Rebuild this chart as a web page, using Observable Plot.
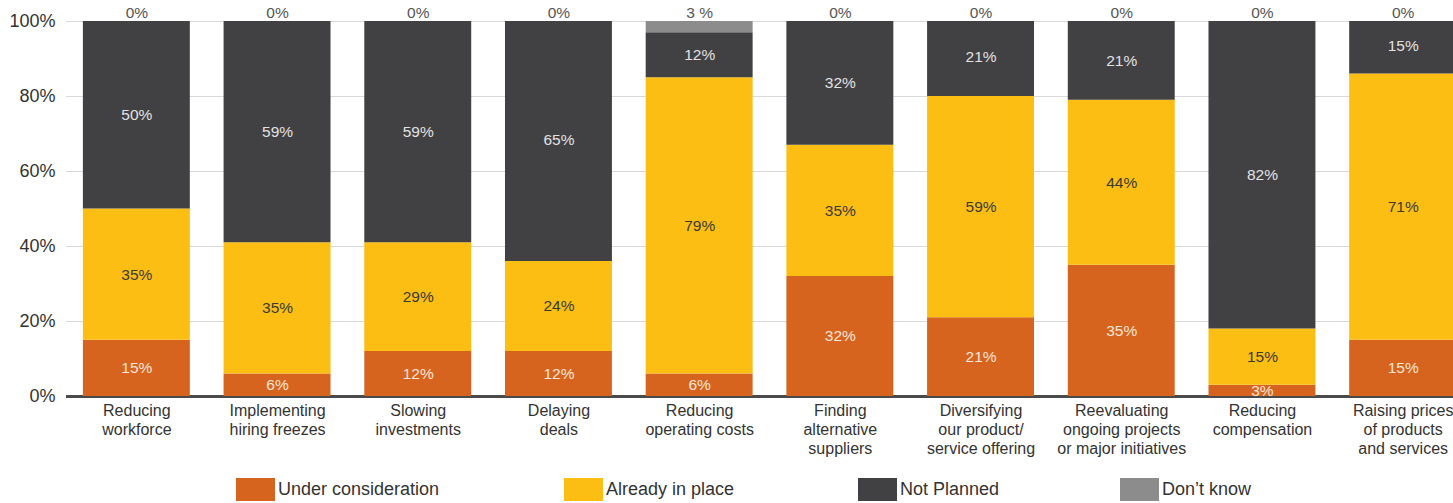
<!DOCTYPE html>
<html>
<head>
<meta charset="utf-8">
<script src="https://cdn.jsdelivr.net/npm/d3@7"></script>
<script src="https://cdn.jsdelivr.net/npm/@observablehq/plot@0.6"></script>
<style>
  html, body { margin: 0; padding: 0; background: #fff; overflow: hidden; }
  #wrap { position: relative; width: 1453px; height: 503px; overflow: hidden; font-family: "Liberation Sans", Arial, sans-serif; }
  #chart svg { max-width: none !important; }
  #legend { position: absolute; left: 0; top: 478px; width: 1453px; height: 24px; }
  .item { position: absolute; top: 0; display: flex; align-items: center; font-size: 18px; color: #333; }
  .sw { width: 39px; height: 23px; margin-right: 3px; }
</style>
</head>
<body>
<div id="wrap"><div id="chart"></div><div id="legend"></div></div>
<script>
const categories = [
  "Reducing\nworkforce",
  "Implementing\nhiring freezes",
  "Slowing\ninvestments",
  "Delaying\ndeals",
  "Reducing\noperating costs",
  "Finding\nalternative\nsuppliers",
  "Diversifying\nour product/\nservice offering",
  "Reevaluating\nongoing projects\nor major initiatives",
  "Reducing\ncompensation",
  "Raising prices\nof products\nand services"
];
// bar values as drawn (percent)
const underConsideration = [15, 6, 12, 12, 6, 32, 21, 35, 3, 15];
const alreadyInPlace     = [35, 35, 29, 24, 79, 35, 59, 44, 15, 71];
const notPlanned         = [50, 59, 59, 65, 12, 33, 21, 21, 82, 15];
const dontKnow           = [0, 0, 0, 0, 3, 0, 0, 0, 0, 0];
// printed labels
const underLabels      = ["15%", "6%", "12%", "12%", "6%", "32%", "21%", "35%", "3%", "15%"];
const alreadyLabels    = ["35%", "35%", "29%", "24%", "79%", "35%", "59%", "44%", "15%", "71%"];
const notPlannedLabels = ["50%", "59%", "59%", "65%", "12%", "32%", "21%", "21%", "82%", "15%"];
const dontKnowLabels   = ["0%", "0%", "0%", "0%", "3 %", "0%", "0%", "0%", "0%", "0%"];
const seriesNames  = ["Under consideration", "Already in place", "Not Planned", "Don’t know"];
const seriesColors = ["#D6641F", "#FCBE13", "#414042", "#8C8C8D"];
const labelColors  = ["#FBE6D8", "#3a3a3a", "#E2E2E2", "#555555"];
const yTicks = [0, 20, 40, 60, 80, 100];

const seriesValues = [underConsideration, alreadyInPlace, notPlanned, dontKnow];
const seriesLabels = [underLabels, alreadyLabels, notPlannedLabels, null];
const rows = [];
categories.forEach((c, i) => {
  seriesNames.forEach((s, k) => {
    rows.push({category: c, series: s, k, value: seriesValues[k][i], label: seriesLabels[k] ? seriesLabels[k][i] : ""});
  });
});
const topRows = categories.map((c, i) => ({category: c, label: dontKnowLabels[i]}));

const stackOpts = {x: "category", y: "value", z: "series", order: seriesNames};

const chart = Plot.plot({
  width: 1482,
  height: 465,
  marginLeft: 66,
  marginRight: 9,
  marginTop: 21,
  marginBottom: 69,
  style: {fontFamily: "Liberation Sans, Arial, sans-serif", background: "#fff", maxWidth: "none"},
  x: {domain: categories, paddingInner: 0.24, paddingOuter: 0.12, round: false, label: null},
  y: {domain: [0, 100], label: null},
  marks: [
    Plot.gridY(yTicks, {stroke: "#d9d9d9", strokeOpacity: 1, strokeWidth: 1}),
    Plot.ruleY([0], {stroke: "#4a4a4a", strokeWidth: 3}),
    Plot.barY(rows, Plot.stackY({...stackOpts, fill: d => seriesColors[d.k], clip: true})),
    Plot.text(rows, Plot.stackY({
      ...stackOpts,
      text: "label",
      fill: d => labelColors[d.k],
      fontSize: 15.5
    })),
    Plot.text(topRows, {x: "category", y: 100, text: "label", dy: -8, fill: "#555", fontSize: 15.5}),
    Plot.axisY(yTicks, {tickSize: 0, tickPadding: 11, tickFormat: d => d + "%", fontSize: 18, fill: "#333", label: null}),
    Plot.axisX({tickSize: 0, tickPadding: 6, fontSize: 16, lineHeight: 1.19, fill: "#333", label: null})
  ]
});
document.getElementById("chart").appendChild(chart);

const legendLefts = [236, 564, 858, 1120];
const legend = document.getElementById("legend");
seriesNames.forEach((s, k) => {
  const item = document.createElement("div");
  item.className = "item";
  item.style.left = legendLefts[k] + "px";
  const sw = document.createElement("div");
  sw.className = "sw";
  sw.style.background = seriesColors[k];
  const t = document.createElement("span");
  t.textContent = s;
  item.appendChild(sw);
  item.appendChild(t);
  legend.appendChild(item);
});
</script>
</body>
</html>
